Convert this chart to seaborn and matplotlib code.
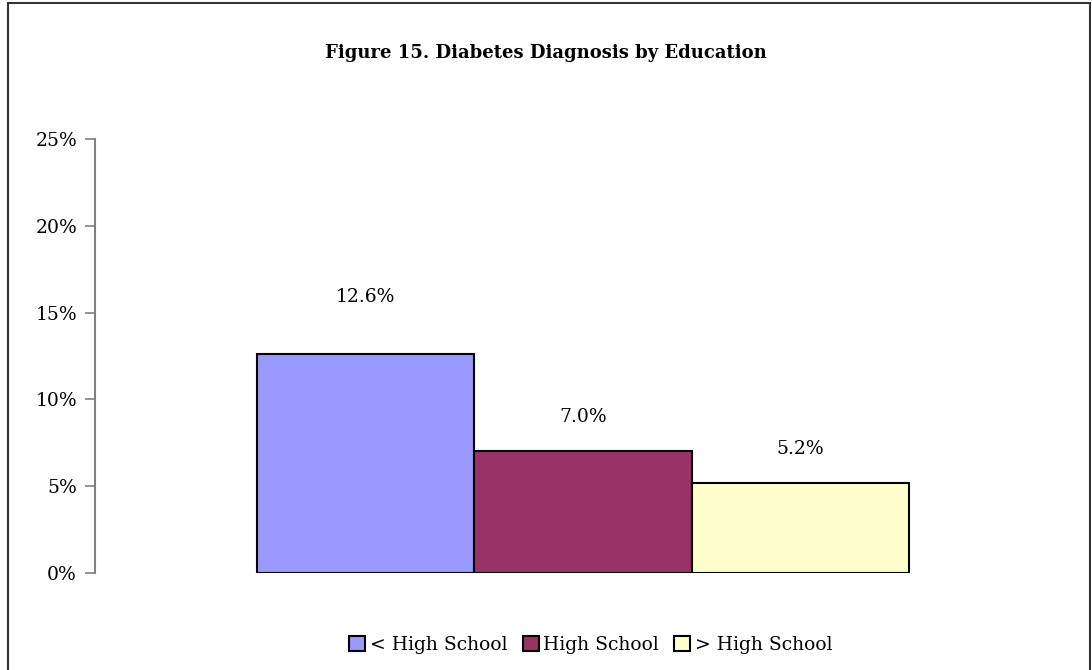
import pandas as pd
import seaborn as sns
import matplotlib.pyplot as plt
from matplotlib.patches import Rectangle
from matplotlib.ticker import PercentFormatter

# values
education = ["< High School", "High School", "> High School"]
diabetes_pct = [12.6, 7.0, 5.2]
colors = ["#9999FF", "#993366", "#FFFFCC"]
yticks = [0, 5, 10, 15, 20, 25]

df = pd.DataFrame({"group": [""] * len(education),
                   "Education": education,
                   "pct": diabetes_pct})

sns.set_style("white")
plt.rcParams["font.family"] = ["DejaVu Serif"]
plt.rcParams["text.color"] = "black"
plt.rcParams["ytick.labelcolor"] = "black"

fig = plt.figure(figsize=(10.92, 6.70), dpi=100)
ax = fig.add_axes([0.087, 0.1448, 0.894, 0.6477])

sns.barplot(data=df, x="group", y="pct", hue="Education", hue_order=education,
            palette=colors, saturation=1, edgecolor="black", linewidth=1.5,
            width=0.668, gap=0, ax=ax, legend=True)

ax.set_ylim(0, 25)
ax.set_xlim(-0.5, 0.5)
ax.set_yticks(yticks)
ax.yaxis.set_major_formatter(PercentFormatter(decimals=0))
ax.tick_params(axis="y", direction="out", length=7, width=1.2, color="#808080",
               labelcolor="black", labelsize=13.5, pad=6, left=True)
ax.tick_params(axis="x", bottom=False, labelbottom=False)
ax.set_xlabel("")
ax.set_ylabel("")
for s in ["top", "right", "bottom"]:
    ax.spines[s].set_visible(False)
ax.spines["left"].set_color("#808080")
ax.spines["left"].set_linewidth(1.5)

# data labels, Excel style
pads = [35, 18, 18]
for cont, p in zip(ax.containers, pads):
    ax.bar_label(cont, fmt="%.1f%%", padding=p, fontsize=13.5, color="black")

handles, labels = ax.get_legend_handles_labels()
ax.legend_.remove()
fig.legend(handles, labels, loc="center", bbox_to_anchor=(0.541, 0.037),
           ncol=3, frameon=False, fontsize=13.5, handlelength=0.85,
           handleheight=0.85, handletextpad=0.25, columnspacing=0.8,
           labelcolor="black")

fig.suptitle("Figure 15. Diabetes Diagnosis by Education", x=0.5, y=0.935,
             fontsize=13, fontweight="bold", color="black")

fig.patches.append(Rectangle((8 / 1092, -0.02), 1082 / 1092, 1.02 - 3 / 670,
                             transform=fig.transFigure, fill=False,
                             edgecolor="#333333", linewidth=1.5))

fig.savefig("out.png", dpi=100)
